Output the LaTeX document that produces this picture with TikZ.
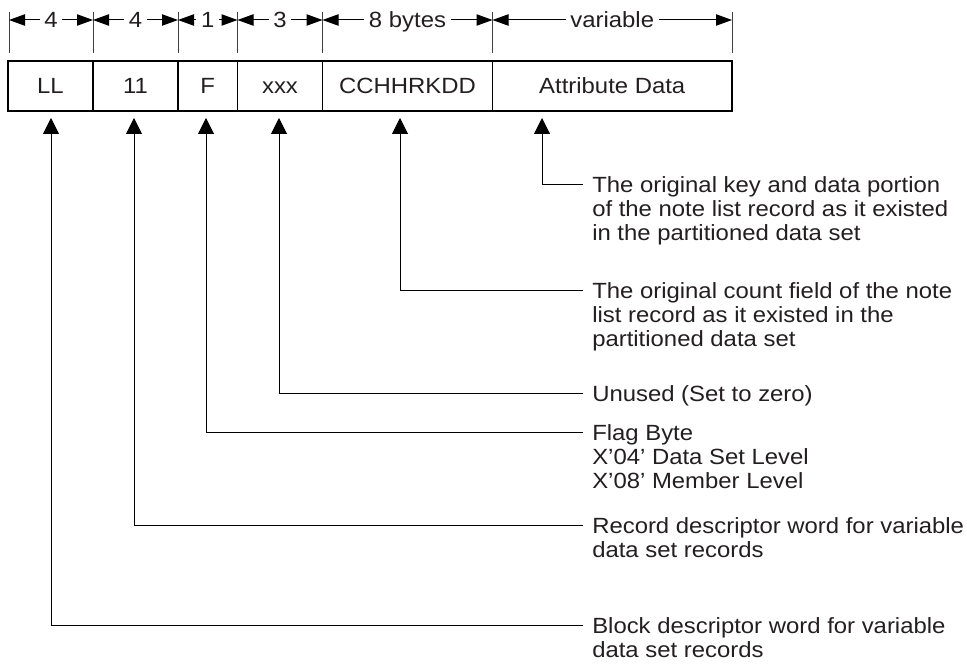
\documentclass[tikz,border=0pt]{standalone}
\usepackage{fontspec}
\setmainfont{Liberation Sans}[FakeStretch=1.086]
\usetikzlibrary{arrows.meta}
\definecolor{txt}{HTML}{231F20}
\begin{document}
\begin{tikzpicture}[x=0.75pt,y=-0.75pt,
  every node/.style={font=\fontsize{16.5}{18}\selectfont, text=txt},
  cell/.style={draw=black, line width=0.9pt, minimum height=37.5pt, inner sep=0pt, text height=11.8pt, text depth=0pt},
  tickline/.style={draw=black!75, line width=0.7pt},
  dimline/.style={draw=black, line width=0.75pt, {Triangle[length=12pt,width=8.5pt]}-{Triangle[length=12pt,width=8.5pt]}},
  dimlab/.style={fill=white, inner xsep=3.5pt, inner ysep=0pt, text height=11.8pt, text depth=0pt},
  ptr/.style={draw=black, line width=0.75pt, -{Triangle[length=12pt,width=12pt]}},
  note/.style={anchor=base west, inner sep=0pt, align=left}]
\useasboundingbox (0,0) rectangle (967,666);

% dimension ticks
\foreach \x in {9,93,178,237.5,322.5,492.5,732}
  \draw[tickline] (\x,12) -- (\x,53);

% dimension arrows
\coordinate (t0) at (9,20);
\coordinate (t1) at (93,20);
\coordinate (t2) at (178,20);
\coordinate (t3) at (237.5,20);
\coordinate (t4) at (322.5,20);
\coordinate (t5) at (492.5,20);
\coordinate (t6) at (732,20);
\draw[dimline] (t0) -- (t1);
\draw[dimline] (t1) -- (t2);
\draw[dimline] (t2) -- (t3);
\draw[dimline] (t3) -- (t4);
\draw[dimline] (t4) -- (t5);
\draw[dimline] (t5) -- (t6);
\node[dimlab] (d1) at (51,20) {4};
\node[dimlab] (d2) at (135.5,20) {4};
\node[dimlab] (d3) at (207.75,20) {1};
\node[dimlab] (d4) at (280,20) {3};
\node[dimlab] (d5) at (407.5,20) {8 bytes};
\node[dimlab] (d6) at (612.25,20) {variable};

% record cells
\node[cell, minimum width=63.75pt] (cLL) at (50.5,86) {LL};
\node[cell, minimum width=63.75pt] (c11) at (135.5,86) {11};
\node[cell, minimum width=44.625pt] (cF) at (207.75,86) {F};
\node[cell, minimum width=63.75pt] (cX) at (280,86) {xxx};
\node[cell, minimum width=127.5pt] (cC) at (407.5,86) {CCHHRKDD};
\node[cell, minimum width=179.625pt] (cA) at (612.25,86) {Attribute Data};

% arrow tips
\coordinate (pA) at (542,118);
\coordinate (pC) at (400,118);
\coordinate (pX) at (279,118);
\coordinate (pF) at (206,118);
\coordinate (p11) at (134,118);
\coordinate (pLL) at (51,118);

% callout starts
\coordinate (kA) at (583,185);
\coordinate (kC) at (583,291);
\coordinate (kX) at (583,394);
\coordinate (kF) at (583,432);
\coordinate (k11) at (583,525);
\coordinate (kLL) at (583,625);

% notes
\node[note] (nA) at (592,193) {\begin{tabular}[t]{@{}l@{}}The original key and data portion\\of the note list record as it existed\\in the partitioned data set\end{tabular}};
\node[note] (nC) at (592,299) {\begin{tabular}[t]{@{}l@{}}The original count field of the note\\list record as it existed in the\\partitioned data set\end{tabular}};
\node[note] (nX) at (592,402) {Unused (Set to zero)};
\node[note] (nF) at (592,440) {\begin{tabular}[t]{@{}l@{}}Flag Byte\\X’04’ Data Set Level\\X’08’ Member Level\end{tabular}};
\node[note] (n11) at (592,533) {\begin{tabular}[t]{@{}l@{}}Record descriptor word for variable\\data set records\end{tabular}};
\node[note] (nLL) at (592,633) {\begin{tabular}[t]{@{}l@{}}Block descriptor word for variable\\data set records\end{tabular}};

% pointers
\draw[ptr] (kA) -| (pA);
\draw[ptr] (kC) -| (pC);
\draw[ptr] (kX) -| (pX);
\draw[ptr] (kF) -| (pF);
\draw[ptr] (k11) -| (p11);
\draw[ptr] (kLL) -| (pLL);
\end{tikzpicture}
\end{document}
